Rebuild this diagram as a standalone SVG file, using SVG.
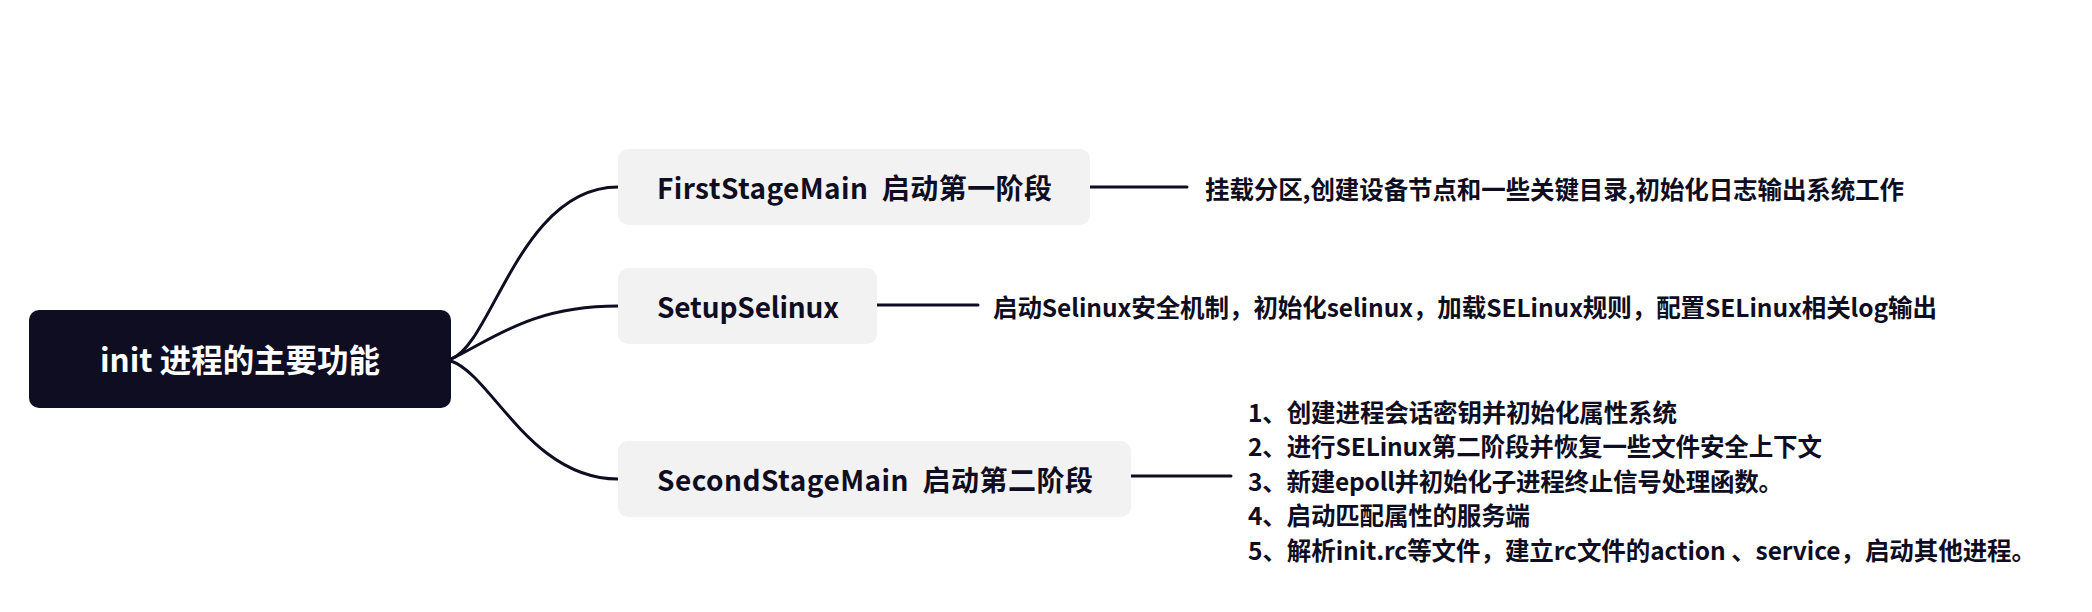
<svg xmlns="http://www.w3.org/2000/svg" width="2092" height="612" viewBox="0 0 2092 612">
  <style>
    .t { font-family: "Noto Sans CJK SC", "Noto Sans", sans-serif; font-weight: 700; fill: #0f0d21; white-space: pre; }
    .root-t { font-size: 31.5px; fill: #ffffff; }
    .node-t { font-size: 28px; }
    .desc-t { font-size: 24.5px; }
    .node { fill: #f2f2f2; }
    .conn { fill: none; stroke: #0f0d21; stroke-width: 3; stroke-linecap: round; }
  </style>
  <rect width="2092" height="612" fill="#ffffff"/>
  <g id="connectors">
    <path class="conn" d="M451,359 C492,345 520,187 618,187"/>
    <path class="conn" d="M451,359 C492,340 530,306 618,306"/>
    <path class="conn" d="M451,361 C492,375 530,479 618,479"/>
    <path class="conn" d="M1090,187 L1187,187"/>
    <path class="conn" d="M877,305 L978,305"/>
    <path class="conn" d="M1131,476 L1231,476"/>
  </g>
  <g id="root">
    <rect x="29" y="310" width="422" height="98" rx="10" fill="#0f0d21"/>
    <text class="t root-t" x="100" y="372" textLength="280" lengthAdjust="spacingAndGlyphs">init 进程的主要功能</text>
  </g>
  <g id="first-stage">
    <rect class="node" x="618" y="149" width="472" height="76" rx="10"/>
    <text class="t node-t" x="657" y="199" xml:space="preserve" textLength="395">FirstStageMain  启动第一阶段</text>
  </g>
  <g id="first-stage-desc">
    <text class="t desc-t" x="1205" y="199" textLength="699">挂载分区,创建设备节点和一些关键目录,初始化日志输出系统工作</text>
  </g>
  <g id="setup-selinux">
    <rect class="node" x="618" y="268" width="259" height="76" rx="10"/>
    <text class="t node-t" x="657" y="318" textLength="182">SetupSelinux</text>
  </g>
  <g id="setup-selinux-desc">
    <text class="t desc-t" x="993" y="317" textLength="944">启动Selinux安全机制，初始化selinux，加载SELinux规则，配置SELinux相关log输出</text>
  </g>
  <g id="second-stage">
    <rect class="node" x="618" y="441" width="513" height="76" rx="10"/>
    <text class="t node-t" x="657" y="491" xml:space="preserve" textLength="436">SecondStageMain  启动第二阶段</text>
  </g>
  <g id="second-stage-desc">
    <text class="t desc-t" x="1248" y="422" textLength="429">1、创建进程会话密钥并初始化属性系统</text>
    <text class="t desc-t" x="1248" y="456" textLength="574">2、进行SELinux第二阶段并恢复一些文件安全上下文</text>
    <text class="t desc-t" x="1248" y="491" textLength="535">3、新建epoll并初始化子进程终止信号处理函数。</text>
    <text class="t desc-t" x="1248" y="525" textLength="282">4、启动匹配属性的服务端</text>
    <text class="t desc-t" x="1248" y="560" textLength="788">5、解析init.rc等文件，建立rc文件的action 、service，启动其他进程。</text>
  </g>
</svg>
